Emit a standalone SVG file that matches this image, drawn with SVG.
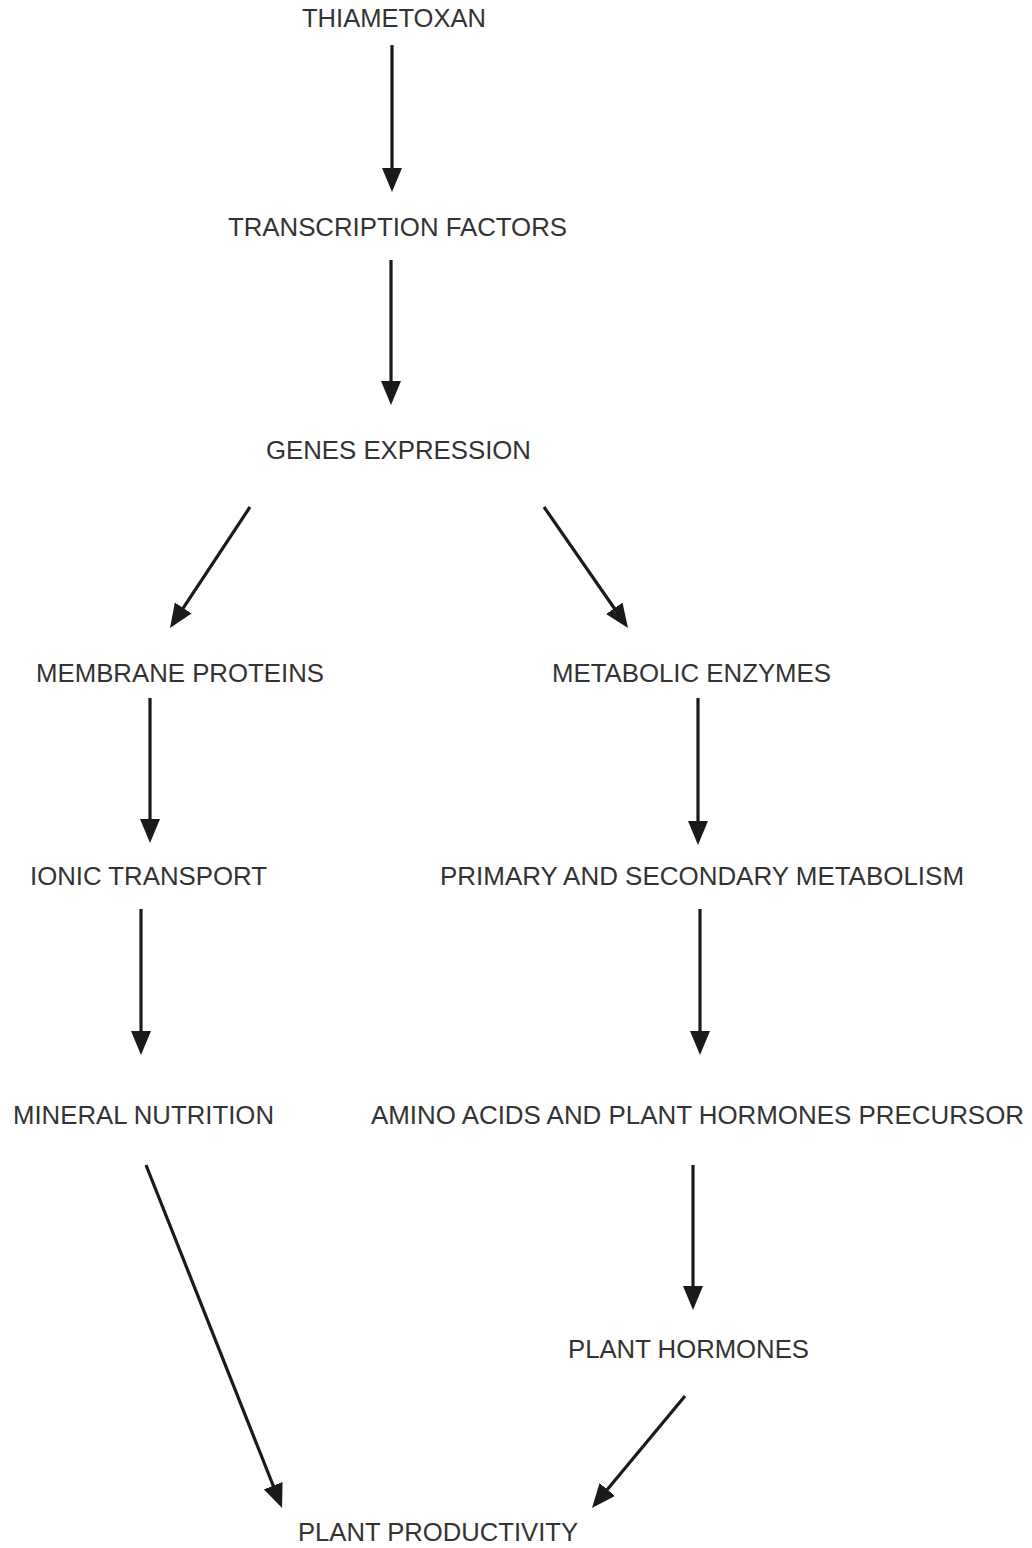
<svg xmlns="http://www.w3.org/2000/svg" width="1032" height="1548" viewBox="0 0 1032 1548">
<style>
.t{font-family:"Liberation Sans",Arial,sans-serif;font-size:25px;fill:#333;}
.c line{stroke:#1a1a1a;stroke-width:3.2;fill:none;}
</style>
<defs>
<marker id="ah" viewBox="0 0 24 20" markerWidth="24" markerHeight="20" refX="10" refY="10" orient="auto" markerUnits="userSpaceOnUse">
<path d="M0,0 L24,10 L0,20 z" fill="#1a1a1a"/>
</marker>
</defs>
<rect width="1032" height="1548" fill="#fff"/>
<g id="n1"><text class="t" x="302" y="27" textLength="184" lengthAdjust="spacingAndGlyphs">THIAMETOXAN</text></g>
<g id="n2"><text class="t" x="228" y="236" textLength="339" lengthAdjust="spacingAndGlyphs">TRANSCRIPTION FACTORS</text></g>
<g id="n3"><text class="t" x="266" y="459" textLength="265" lengthAdjust="spacingAndGlyphs">GENES EXPRESSION</text></g>
<g id="n4"><text class="t" x="36" y="682" textLength="288" lengthAdjust="spacingAndGlyphs">MEMBRANE PROTEINS</text></g>
<g id="n5"><text class="t" x="552" y="682" textLength="279" lengthAdjust="spacingAndGlyphs">METABOLIC ENZYMES</text></g>
<g id="n6"><text class="t" x="30" y="885" textLength="237" lengthAdjust="spacingAndGlyphs">IONIC TRANSPORT</text></g>
<g id="n7"><text class="t" x="440" y="885" textLength="524" lengthAdjust="spacingAndGlyphs">PRIMARY AND SECONDARY METABOLISM</text></g>
<g id="n8"><text class="t" x="13" y="1124" textLength="261" lengthAdjust="spacingAndGlyphs">MINERAL NUTRITION</text></g>
<g id="n9"><text class="t" x="371" y="1124" textLength="653" lengthAdjust="spacingAndGlyphs">AMINO ACIDS AND PLANT HORMONES PRECURSOR</text></g>
<g id="n10"><text class="t" x="568" y="1358" textLength="241" lengthAdjust="spacingAndGlyphs">PLANT HORMONES</text></g>
<g id="n11"><text class="t" x="298" y="1541" textLength="280" lengthAdjust="spacingAndGlyphs">PLANT PRODUCTIVITY</text></g>
<g id="connectors" class="c">
<line x1="392" y1="45" x2="392" y2="178" marker-end="url(#ah)"/>
<line x1="391" y1="260" x2="391" y2="391" marker-end="url(#ah)"/>
<line x1="250" y1="507" x2="177.7" y2="616.3" marker-end="url(#ah)"/>
<line x1="544" y1="507" x2="620" y2="616.5" marker-end="url(#ah)"/>
<line x1="150" y1="698" x2="150" y2="829" marker-end="url(#ah)"/>
<line x1="698" y1="698" x2="698" y2="831" marker-end="url(#ah)"/>
<line x1="141" y1="909" x2="141" y2="1041" marker-end="url(#ah)"/>
<line x1="700" y1="909" x2="700" y2="1041" marker-end="url(#ah)"/>
<line x1="146" y1="1165" x2="276.9" y2="1495" marker-end="url(#ah)"/>
<line x1="693" y1="1165" x2="693" y2="1296" marker-end="url(#ah)"/>
<line x1="685" y1="1396" x2="600.9" y2="1497.2" marker-end="url(#ah)"/>
</g>
</svg>
